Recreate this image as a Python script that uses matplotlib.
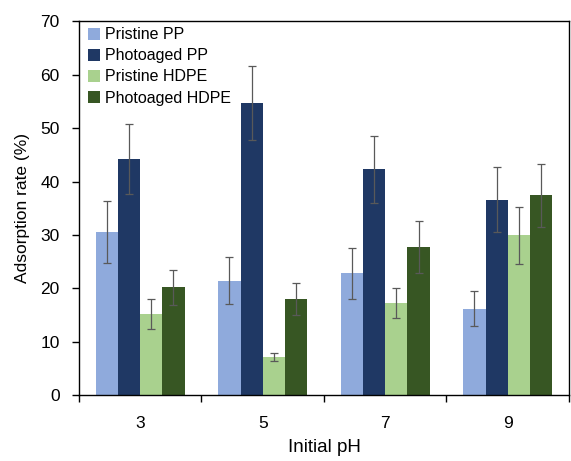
import matplotlib
matplotlib.use("Agg")
import matplotlib.pyplot as plt
import numpy as np

plt.rcParams['font.family'] = ['Liberation Sans', 'DejaVu Sans']

categories = ["3", "5", "7", "9"]
series_names = ["Pristine PP", "Photoaged PP", "Pristine HDPE", "Photoaged HDPE"]
pristine_pp = [30.5, 21.4, 22.8, 16.2]
pristine_pp_err = [5.8, 4.4, 4.8, 3.3]
photoaged_pp = [44.2, 54.7, 42.3, 36.6]
photoaged_pp_err = [6.5, 7.0, 6.3, 6.1]
pristine_hdpe = [15.2, 7.1, 17.3, 29.9]
pristine_hdpe_err = [2.8, 0.8, 2.8, 5.4]
photoaged_hdpe = [20.2, 18.0, 27.8, 37.4]
photoaged_hdpe_err = [3.3, 3.0, 4.9, 5.9]
colors = ["#8faadc", "#1f3864", "#a9d18e", "#375623"]

values = [pristine_pp, photoaged_pp, pristine_hdpe, photoaged_hdpe]
errors = [pristine_pp_err, photoaged_pp_err, pristine_hdpe_err, photoaged_hdpe_err]

fig = plt.figure(figsize=(5.71, 4.61), dpi=100)
ax = fig.add_axes([0.1383, 0.1432, 0.8582, 0.8102])

x = np.arange(len(categories))
w = 0.181
for i, (vals, errs, c, name) in enumerate(zip(values, errors, colors, series_names)):
    pos = x + (i - 1.5) * w
    ax.bar(pos, vals, width=w, color=c, label=name, zorder=2)
    ax.errorbar(pos, vals, yerr=errs, fmt='none', ecolor='#595959',
                elinewidth=0.9, capsize=2.8, capthick=0.9, zorder=3)

ax.set_xlim(-0.5, 3.5)
ax.set_ylim(0, 70)
ax.set_yticks(range(0, 71, 10))
ax.set_xticks(x)
ax.set_xticklabels(categories)
ax.set_xticks(np.arange(-0.5, 3.6, 1.0), minor=True)
ax.tick_params(axis='x', which='major', length=0, pad=15, labelsize=12.5)
ax.tick_params(axis='x', which='minor', length=5, width=1.0, direction='out')
ax.tick_params(axis='y', length=5, width=1.0, direction='out', labelsize=12.5, pad=9)

for s in ax.spines.values():
    s.set_linewidth(1.0)
    s.set_color('black')

ax.set_xlabel("Initial pH", fontsize=13.5, labelpad=6)
ax.set_ylabel("Adsorption rate (%)", fontsize=12.5, labelpad=7)

ax.legend(loc='upper left', frameon=False, fontsize=11.5,
          handlelength=0.75, handleheight=0.75, handletextpad=0.35,
          labelspacing=0.38, borderaxespad=0.2, bbox_to_anchor=(-0.002, 1.01))

fig.savefig("out.png", dpi=100)
